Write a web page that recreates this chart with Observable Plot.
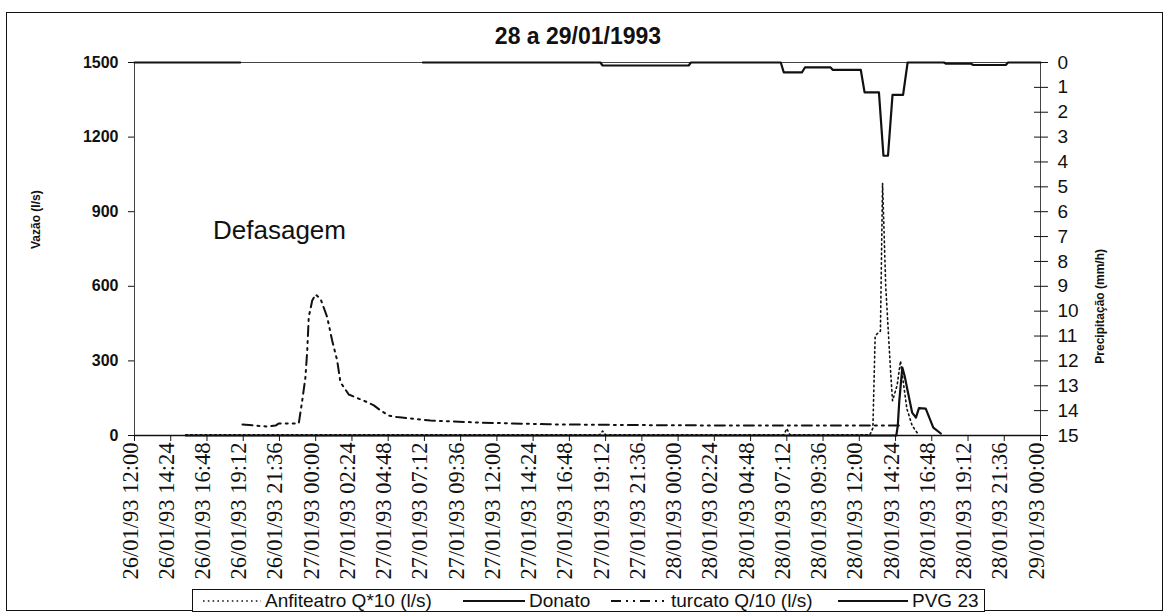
<!DOCTYPE html>
<html>
<head>
<meta charset="utf-8">
<script src="https://cdn.jsdelivr.net/npm/d3@7"></script>
<script src="https://cdn.jsdelivr.net/npm/@observablehq/plot@0.6"></script>
<style>
  body { margin: 0; background: #fff; font-family: "Liberation Sans", Arial, sans-serif; color: #111; }
  #wrap { position: relative; width: 1166px; height: 613px; overflow: hidden; background: #fff; }
  #chart { position: absolute; left: 0; top: 0; }
  #frame { position: absolute; left: 6px; top: 12px; width: 1155px; height: 597px; border: 1.5px solid #111; pointer-events: none; }
  #title { position: absolute; left: 0; width: 1156px; top: 25px; text-align: center; font-weight: bold; font-size: 23px; line-height: 23px; }
  #legend { position: absolute; left: 192px; top: 589px; width: 791px; height: 21px; border: 1.2px solid #111; background: #fff; font-size: 19px; }
  #legend .it { position: absolute; top: 0; height: 21px; display: flex; align-items: center; white-space: nowrap; line-height: 21px; }
  #legend svg { display: block; margin-right: 4px; }
</style>
</head>
<body>
<div id="wrap">
  <div id="chart"></div>
  <div id="frame"></div>
  <div id="title"></div>
  <div id="legend"></div>
</div>
<script>
// ---------- data (hours counted from 26/01/93 12:00) ----------
const chartTitle = "28 a 29/01/1993";

const xTickLabels = [
  "26/01/93 12:00","26/01/93 14:24","26/01/93 16:48","26/01/93 19:12","26/01/93 21:36",
  "27/01/93 00:00","27/01/93 02:24","27/01/93 04:48","27/01/93 07:12","27/01/93 09:36",
  "27/01/93 12:00","27/01/93 14:24","27/01/93 16:48","27/01/93 19:12","27/01/93 21:36",
  "28/01/93 00:00","28/01/93 02:24","28/01/93 04:48","28/01/93 07:12","28/01/93 09:36",
  "28/01/93 12:00","28/01/93 14:24","28/01/93 16:48","28/01/93 19:12","28/01/93 21:36",
  "29/01/93 00:00"
];
const vazaoTicks = [0, 300, 600, 900, 1200, 1500];
const precipTicks = [0,1,2,3,4,5,6,7,8,9,10,11,12,13,14,15];

// Anfiteatro Q*10 (l/s)
const anfHours = [3.4, 30.8, 31.0, 31.2, 43.0, 43.2, 43.4, 48.7, 48.9, 49.05, 49.2, 49.4, 49.54, 49.75, 50.07, 50.2, 50.5, 50.73, 50.9, 51.15, 51.5, 51.9];
const anfQ     = [3,   3,    18,   3,    3,    28,   3,    3,    30,   400,   410,  420,  1015,  600,   260,   140,  200,  300,   220,  108,   40,   5];

// Donato (l/s)
const donHours = [3.4, 50.45, 50.55, 50.65, 50.85, 51.0, 51.2, 51.5, 51.75, 51.95, 52.4, 52.9, 53.4];
const donQ     = [0,   0,     40,    140,   273,   240,  180,  92,   72,    110,   108,  32,   8];

// turcato Q/10 (l/s)
const turHours = [7.15, 8.8, 9.34, 9.54, 10.79, 10.88, 11.11, 11.32, 11.44, 11.54, 11.77, 11.99, 12.32, 12.76, 13.09, 13.42, 13.64, 14.19, 15.41, 15.85, 16.29, 16.84, 17.4, 19.6, 22.9, 27.4, 33.0, 40.0, 48.9, 50.7];
const turQ     = [44,   36,  40,   48,   48,    49,    141,   234,   342,   476,   543,   567,   550,   476,   382,   302,   214,   165,   134,   121,   101,   80,    74,   60,   52,   45,   42,   40,   40,   40];

// PVG 23 precipitation (mm/h), right axis (reversed)
const pvgHours = [0,   7.0, 13.0, 19.1, 30.85, 31.0, 36.7, 36.85, 42.8, 43.0, 44.2, 44.4, 46.1, 46.25, 48.1, 48.35, 49.3, 49.6, 49.9, 50.2, 50.9, 51.2, 53.6, 53.75, 55.4, 55.55, 57.7, 57.85, 60];
const pvgMm    = [0,   0,   null, 0,    0,     0.12, 0.12, 0,     0,    0.4,  0.4,  0.2,  0.2,  0.3,   0.3,  1.2,   1.2,  3.75, 3.75, 1.3,  1.3,  0,    0,    0.05,  0.05, 0.1,   0.1,  0,     0];

const annotations = [{h: 5.2, q: 824, label: "Defasagem"}];

// ---------- helpers ----------
const T0 = Date.UTC(1993, 0, 26, 12, 0);
const toDate = h => new Date(T0 + h * 3600000);
const parseLabel = s => {
  const [d, m, y, H, M] = s.match(/\d+/g).map(Number);
  return new Date(Date.UTC(1900 + y, m - 1, d, H, M));
};
const xTicks = xTickLabels.map(parseLabel);
const xTickRows = xTicks.map((t, i) => ({t, label: xTickLabels[i]}));

const QMAX = 1500, PMAX = 15;
const precipToY = p => QMAX - p * (QMAX / PMAX);
const yToPrecip = y => Math.round((QMAX - y) / (QMAX / PMAX));

const rows = (hs, vs) => hs.map((h, i) => ({t: toDate(h), v: vs[i]}));
const anf = rows(anfHours, anfQ);
const don = rows(donHours, donQ);
const tur = rows(turHours, turQ);
const pvg = pvgHours.map((h, i) => ({t: toDate(h), v: pvgMm[i] == null ? NaN : precipToY(pvgMm[i])}));

const ink = "#111";
const styles = {
  anf: {strokeDasharray: "1.6 3.2", strokeWidth: 1.6},
  don: {strokeDasharray: null, strokeWidth: 2.2},
  tur: {strokeDasharray: "10 5 2 5 2 5", strokeWidth: 2},
  pvg: {strokeDasharray: null, strokeWidth: 2.2}
};

const chart = Plot.plot({
  width: 1166,
  height: 613,
  marginLeft: 134,
  marginRight: 126,
  marginTop: 62,
  marginBottom: 178,
  style: {fontFamily: "'Liberation Sans', Arial, sans-serif", color: ink, background: "transparent", overflow: "visible"},
  x: {type: "utc", domain: [xTicks[0], xTicks[xTicks.length - 1]]},
  y: {domain: [0, QMAX]},
  marks: [
    Plot.frame({stroke: "#444", strokeWidth: 1}),
    Plot.ruleY([0], {stroke: ink, strokeWidth: 1.6}),
    Plot.axisY({ticks: vazaoTicks, tickFormat: d => String(d), tickSize: 6, tickPadding: 10, fontSize: 16, fontWeight: "bold", label: null}),
    Plot.axisY({anchor: "right", ticks: precipTicks.map(precipToY), tickFormat: d => String(yToPrecip(d)), tickSize: 14, dx: -7, tickPadding: 10, fontSize: 19, label: null}),
    Plot.axisX({ticks: xTicks, tickFormat: () => "", tickSize: 6, label: null}),
    Plot.text(xTickRows, {x: "t", text: "label", frameAnchor: "bottom", rotate: -90, textAnchor: "end", dy: 7, dx: 3,
      fontFamily: "Liberation Serif", fontSize: 22.5, fill: ink}),
    Plot.text(["Vazão (l/s)"], {frameAnchor: "left", dx: -98, rotate: -90, fontSize: 12, fontWeight: "bold"}),
    Plot.text(["Precipitação (mm/h)"], {frameAnchor: "right", dx: 60, rotate: -90, fontSize: 12, fontWeight: "bold"}),
    Plot.line(don, {x: "t", y: "v", stroke: ink, ...styles.don}),
    Plot.line(tur, {x: "t", y: "v", stroke: ink, ...styles.tur}),
    Plot.line(anf, {x: "t", y: "v", stroke: ink, ...styles.anf}),
    Plot.line(pvg, {x: "t", y: "v", stroke: ink, ...styles.pvg}),
    Plot.text(annotations, {x: d => toDate(d.h), y: "q", text: "label", textAnchor: "start", lineAnchor: "middle", fontSize: 26, fill: ink})
  ]
});
document.getElementById("chart").appendChild(chart);
document.getElementById("title").textContent = chartTitle;

// legend
const legendItems = [
  {key: "anf", label: "Anfiteatro Q*10 (l/s)", left: 10, w: 58},
  {key: "don", label: "Donato", left: 270, w: 62},
  {key: "tur", label: "turcato Q/10 (l/s)", left: 418, w: 56},
  {key: "pvg", label: "PVG 23", left: 645, w: 70}
];
const leg = document.getElementById("legend");
for (const it of legendItems) {
  const s = styles[it.key];
  const div = document.createElement("div");
  div.className = "it";
  div.style.left = it.left + "px";
  div.innerHTML = `<svg width="${it.w}" height="12"><line x1="0" x2="${it.w}" y1="6" y2="6" stroke="${ink}" stroke-width="${s.strokeWidth}" ${s.strokeDasharray ? `stroke-dasharray="${s.strokeDasharray}"` : ""}/></svg><span>${it.label}</span>`;
  leg.appendChild(div);
}
</script>
</body>
</html>
